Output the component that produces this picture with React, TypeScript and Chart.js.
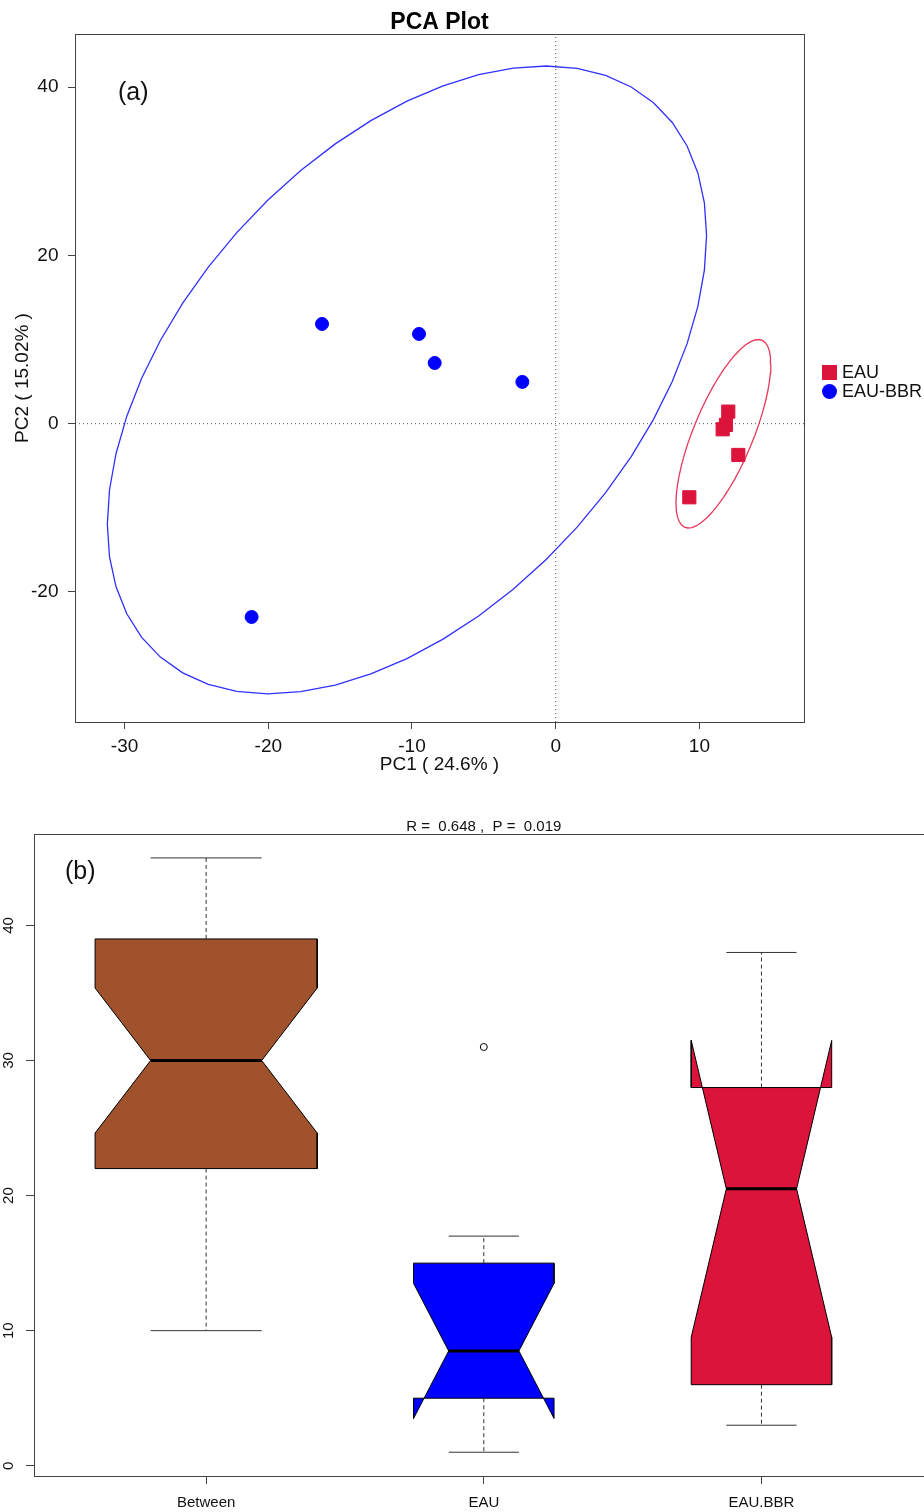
import React, { useEffect, useRef } from 'react';
import { Chart, registerables } from 'chart.js';

Chart.register(...registerables);

const FONT = "'Liberation Sans', Arial, Helvetica, sans-serif";
Chart.defaults.font.family = FONT;
Chart.defaults.color = '#111';

// ---------------- (a) PCA data ----------------
const pcaGroups = ['EAU', 'EAU-BBR'];
const pcaColors = ['#DC143C', '#0000FF'];
const eauPC1 = [12.01, 11.85, 11.62, 12.71, 9.3];
const eauPC2 = [1.43, -0.15, -0.67, -3.72, -8.75];
const bbrPC1 = [-16.26, -9.51, -8.42, -2.32, -21.16];
const bbrPC2 = [11.85, 10.66, 7.21, 4.96, -22.97];
const pcaXTicks = [-30, -20, -10, 0, 10];
const pcaYTicks = [-20, 0, 20, 40];
const pcaXRange = [-33.45, 17.28];
const pcaYRange = [-35.45, 46.3];

// confidence ellipses (centre, half extents, phase)
const ellipseCX = [11.67, -10.35];
const ellipseCY = [-1.2, 5.2];
const ellipseRX = [3.3, 20.85];
const ellipseRY = [11.2, 37.3];
const ellipsePhaseDeg = [-42.6, -62.6];

// ---------------- (b) notched box plot data ----------------
const boxCategories = ['Between', 'EAU', 'EAU.BBR'];
const boxN = [25, 10, 10];
const boxWhiskerLow = [10, 1, 3];
const boxQ1 = [22, 5, 6];
const boxNotchLow = [24.63, 3.5, 9.51];
const boxMedian = [30, 8.5, 20.5];
const boxNotchHigh = [35.37, 13.5, 31.49];
const boxQ3 = [39, 15, 28];
const boxWhiskerHigh = [45, 17, 38];
const boxOutlierCat = [2];
const boxOutlierVal = [31];
const boxColors = ['#A0522D', '#0000FF', '#DC143C'];
const boxYTicks = [0, 10, 20, 30, 40];
const boxYRange = [-0.76, 46.77];
const boxXRange = [0.38, 3.62];

function ellipsePoints(i: number, segs = 52) {
  const pts: { x: number; y: number }[] = [];
  const ph = (ellipsePhaseDeg[i] * Math.PI) / 180;
  for (let k = 0; k <= segs; k++) {
    const t = (2 * Math.PI * k) / segs;
    pts.push({
      x: ellipseCX[i] + ellipseRX[i] * Math.cos(t),
      y: ellipseCY[i] + ellipseRY[i] * Math.cos(t + ph),
    });
  }
  return pts;
}

function halfWidth(i: number) {
  return 0.4 * Math.sqrt(boxN[i] / Math.max(...boxN));
}

function boxPolygon(i: number) {
  const c = i + 1;
  const hw = halfWidth(i);
  const nw = hw / 2;
  return [
    { x: c - hw, y: boxQ1[i] },
    { x: c - hw, y: boxNotchLow[i] },
    { x: c - nw, y: boxMedian[i] },
    { x: c - hw, y: boxNotchHigh[i] },
    { x: c - hw, y: boxQ3[i] },
    { x: c + hw, y: boxQ3[i] },
    { x: c + hw, y: boxNotchHigh[i] },
    { x: c + nw, y: boxMedian[i] },
    { x: c + hw, y: boxNotchLow[i] },
    { x: c + hw, y: boxQ1[i] },
    { x: c - hw, y: boxQ1[i] },
  ];
}

const lineBase = { showLine: true, pointRadius: 0, fill: false, tension: 0 };

function topConfig(): any {
  const datasets: any[] = [
    {
      ...lineBase,
      label: 'h0',
      data: [{ x: pcaXRange[0], y: 0 }, { x: pcaXRange[1], y: 0 }],
      borderColor: '#555',
      borderWidth: 1,
      borderDash: [1, 3],
      order: 6,
    },
    {
      ...lineBase,
      label: 'v0',
      data: [{ x: 0, y: pcaYRange[0] }, { x: 0, y: pcaYRange[1] }],
      borderColor: '#555',
      borderWidth: 1,
      borderDash: [1, 3],
      order: 6,
    },
    {
      ...lineBase,
      label: 'ellipse EAU',
      data: ellipsePoints(0),
      borderColor: '#E8375A',
      borderWidth: 1.3,
      order: 5,
    },
    {
      ...lineBase,
      label: 'ellipse EAU-BBR',
      data: ellipsePoints(1),
      borderColor: '#3030FF',
      borderWidth: 1.3,
      order: 5,
    },
    {
      label: pcaGroups[0],
      data: eauPC1.map((x, k) => ({ x, y: eauPC2[k] })),
      pointStyle: 'rect',
      pointRadius: 9.3,
      backgroundColor: pcaColors[0],
      borderColor: pcaColors[0],
      borderWidth: 1,
      order: 1,
    },
    {
      label: pcaGroups[1],
      data: bbrPC1.map((x, k) => ({ x, y: bbrPC2[k] })),
      pointStyle: 'circle',
      pointRadius: 6.5,
      backgroundColor: pcaColors[1],
      borderColor: pcaColors[1],
      borderWidth: 1,
      order: 1,
    },
  ];

  const topPlugin = {
    id: 'topDecor',
    afterDraw(chart: any) {
      const { ctx, chartArea: a } = chart;
      ctx.save();
      ctx.strokeStyle = '#444';
      ctx.lineWidth = 1;
      ctx.strokeRect(a.left + 0.5, a.top + 0.5, a.right - a.left, a.bottom - a.top);
      ctx.fillStyle = '#111';
      ctx.textBaseline = 'middle';
      ctx.textAlign = 'left';
      ctx.font = `25px ${FONT}`;
      ctx.fillText('(a)', a.left + 43, a.top + 59);
      // legend
      ctx.font = `18px ${FONT}`;
      ctx.fillStyle = pcaColors[0];
      ctx.fillRect(822, 365, 15, 15);
      ctx.beginPath();
      ctx.fillStyle = pcaColors[1];
      ctx.arc(829.5, 391.5, 7.5, 0, Math.PI * 2);
      ctx.fill();
      ctx.fillStyle = '#111';
      ctx.fillText(pcaGroups[0], 842, 373);
      ctx.fillText(pcaGroups[1], 842, 392);
      ctx.restore();
    },
  };

  return {
    type: 'scatter',
    data: { datasets },
    plugins: [topPlugin],
    options: {
      responsive: false,
      animation: false,
      devicePixelRatio: 1,
      events: [],
      layout: { padding: { left: 0, top: 0, right: 120, bottom: 0 } },
      plugins: {
        legend: { display: false },
        tooltip: { enabled: false },
        title: {
          display: true,
          text: 'PCA Plot',
          fullSize: false,
          color: '#000',
          font: { size: 23, weight: 'bold', lineHeight: 1 },
          padding: { top: 11, bottom: 0 },
        },
      },
      scales: {
        x: {
          type: 'linear',
          min: pcaXRange[0],
          max: pcaXRange[1],
          afterBuildTicks: (s: any) => {
            s.ticks = pcaXTicks.map((v) => ({ value: v }));
          },
          afterFit: (s: any) => {
            s.height = 68;
          },
          border: { display: false },
          grid: { drawOnChartArea: false, drawTicks: true, tickLength: 7, tickColor: '#444' },
          ticks: { font: { size: 19 }, color: '#111', padding: 6 },
          title: {
            display: true,
            text: 'PC1 ( 24.6% )',
            color: '#111',
            font: { size: 19 },
            padding: { top: 0, bottom: 14 },
          },
        },
        y: {
          type: 'linear',
          min: pcaYRange[0],
          max: pcaYRange[1],
          afterBuildTicks: (s: any) => {
            s.ticks = pcaYTicks.map((v) => ({ value: v }));
          },
          afterFit: (s: any) => {
            s.width = 75;
          },
          border: { display: false },
          grid: { drawOnChartArea: false, drawTicks: true, tickLength: 7, tickColor: '#444' },
          ticks: { font: { size: 19 }, color: '#111', padding: 9.5 },
          title: {
            display: true,
            text: 'PC2 ( 15.02% )',
            color: '#111',
            font: { size: 19 },
            padding: { top: 11, bottom: 0 },
          },
        },
      },
    },
  };
}

function bottomConfig(): any {
  const datasets: any[] = [];
  boxCategories.forEach((_, i) => {
    const c = i + 1;
    const nw = halfWidth(i) / 2;
    datasets.push({
      ...lineBase,
      label: `box ${boxCategories[i]}`,
      data: boxPolygon(i),
      fill: 'shape',
      backgroundColor: boxColors[i],
      borderColor: '#000',
      borderWidth: 1,
      order: 5,
    });
    datasets.push({
      ...lineBase,
      label: `upper whisker ${boxCategories[i]}`,
      data: [{ x: c, y: boxQ3[i] }, { x: c, y: boxWhiskerHigh[i] }],
      borderColor: '#333',
      borderWidth: 1,
      borderDash: [4, 3],
      order: 4,
    });
    datasets.push({
      ...lineBase,
      label: `lower whisker ${boxCategories[i]}`,
      data: [{ x: c, y: boxQ1[i] }, { x: c, y: boxWhiskerLow[i] }],
      borderColor: '#333',
      borderWidth: 1,
      borderDash: [4, 3],
      order: 4,
    });
    datasets.push({
      ...lineBase,
      label: `upper cap ${boxCategories[i]}`,
      data: [{ x: c - nw, y: boxWhiskerHigh[i] }, { x: c + nw, y: boxWhiskerHigh[i] }],
      borderColor: '#333',
      borderWidth: 1,
      order: 4,
    });
    datasets.push({
      ...lineBase,
      label: `lower cap ${boxCategories[i]}`,
      data: [{ x: c - nw, y: boxWhiskerLow[i] }, { x: c + nw, y: boxWhiskerLow[i] }],
      borderColor: '#333',
      borderWidth: 1,
      order: 4,
    });
    datasets.push({
      ...lineBase,
      label: `median ${boxCategories[i]}`,
      data: [{ x: c - nw, y: boxMedian[i] }, { x: c + nw, y: boxMedian[i] }],
      borderColor: '#000',
      borderWidth: 3,
      order: 1,
    });
  });
  datasets.push({
    label: 'outliers',
    data: boxOutlierCat.map((x, k) => ({ x, y: boxOutlierVal[k] })),
    pointStyle: 'circle',
    pointRadius: 3.5,
    backgroundColor: 'rgba(0,0,0,0)',
    borderColor: '#000',
    borderWidth: 1,
    order: 0,
  });

  const botPlugin = {
    id: 'botDecor',
    afterDraw(chart: any) {
      const { ctx, chartArea: a } = chart;
      const ys = chart.scales.y;
      ctx.save();
      ctx.strokeStyle = '#444';
      ctx.lineWidth = 1;
      ctx.strokeRect(a.left + 0.5, a.top + 0.5, a.right - a.left, a.bottom - a.top);
      ctx.fillStyle = '#111';
      ctx.textBaseline = 'middle';
      ctx.textAlign = 'left';
      ctx.font = `25px ${FONT}`;
      ctx.fillText('(b)', a.left + 31, a.top + 38);
      ctx.font = `15px ${FONT}`;
      ctx.textAlign = 'center';
      boxYTicks.forEach((v) => {
        const y = ys.getPixelForValue(v);
        ctx.save();
        ctx.translate(9, y);
        ctx.rotate(-Math.PI / 2);
        ctx.fillText(String(v), 0, 0);
        ctx.restore();
      });
      ctx.restore();
    },
  };

  return {
    type: 'scatter',
    data: { datasets },
    plugins: [botPlugin],
    options: {
      responsive: false,
      animation: false,
      devicePixelRatio: 1,
      events: [],
      layout: { padding: { left: 0, top: 0, right: 6.4, bottom: 0 } },
      plugins: {
        legend: { display: false },
        tooltip: { enabled: false },
        title: {
          display: true,
          text: 'R =  0.648 ,  P =  0.019',
          fullSize: false,
          color: '#111',
          font: { size: 15, weight: 'normal', lineHeight: 1 },
          padding: { top: 29, bottom: 0 },
        },
      },
      scales: {
        x: {
          type: 'linear',
          min: boxXRange[0],
          max: boxXRange[1],
          afterBuildTicks: (s: any) => {
            s.ticks = boxCategories.map((_, i) => ({ value: i + 1 }));
          },
          afterFit: (s: any) => {
            s.height = 36;
          },
          border: { display: false },
          grid: { drawOnChartArea: false, drawTicks: true, tickLength: 8, tickColor: '#444' },
          ticks: {
            font: { size: 15 },
            color: '#111',
            padding: 9.5,
            callback: (v: any) => boxCategories[Math.round(v) - 1] ?? '',
          },
        },
        y: {
          type: 'linear',
          min: boxYRange[0],
          max: boxYRange[1],
          afterBuildTicks: (s: any) => {
            s.ticks = boxYTicks.map((v) => ({ value: v }));
          },
          afterFit: (s: any) => {
            s.width = 34;
          },
          border: { display: false },
          grid: { drawOnChartArea: false, drawTicks: true, tickLength: 8, tickColor: '#444' },
          ticks: { display: false },
        },
      },
    },
  };
}

export default function App() {
  const topRef = useRef<HTMLCanvasElement>(null);
  const botRef = useRef<HTMLCanvasElement>(null);

  useEffect(() => {
    const c1 = new Chart(topRef.current as HTMLCanvasElement, topConfig());
    const c2 = new Chart(botRef.current as HTMLCanvasElement, bottomConfig());
    return () => {
      c1.destroy();
      c2.destroy();
    };
  }, []);

  return (
    <div
      style={{
        position: 'absolute',
        left: 0,
        top: 0,
        width: 924,
        height: 1512,
        overflow: 'hidden',
        background: '#fff',
      }}
    >
      <canvas
        ref={topRef}
        width={924}
        height={790}
        style={{ position: 'absolute', left: 0, top: 0, width: 924, height: 790 }}
      />
      <canvas
        ref={botRef}
        width={940}
        height={722}
        style={{ position: 'absolute', left: 0, top: 790, width: 940, height: 722 }}
      />
    </div>
  );
}
